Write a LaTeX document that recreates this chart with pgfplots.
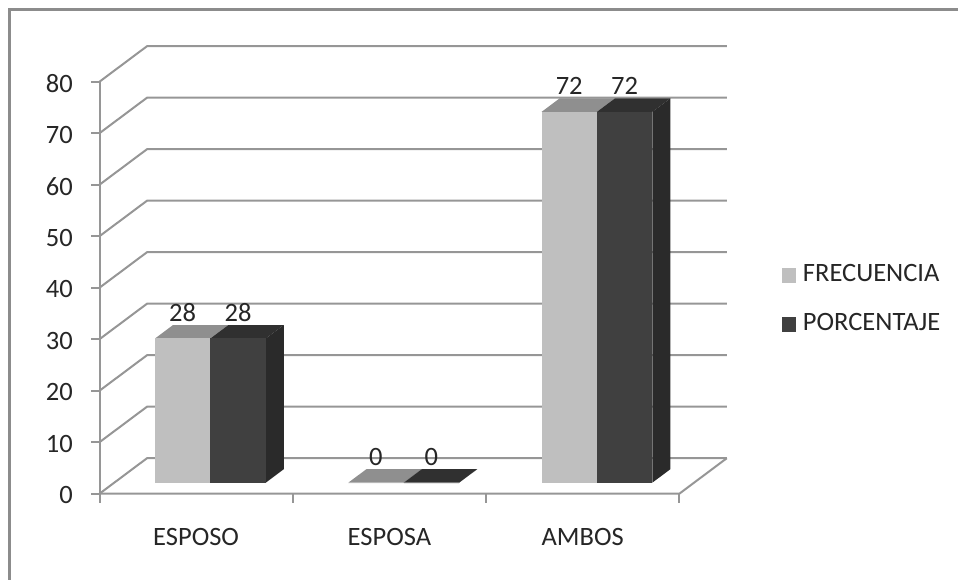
\documentclass[border=0pt]{standalone}
\usepackage{fontspec}
\setmainfont{Carlito}
\usepackage{pgfplots}
\pgfplotsset{compat=1.18}

\definecolor{rulegrey}{HTML}{969696}
\definecolor{framegrey}{HTML}{8C8C8C}
\definecolor{inktext}{HTML}{262626}
\definecolor{frecfront}{HTML}{BFBFBF}
\definecolor{frectop}{HTML}{8F8F8F}
\definecolor{porcfront}{HTML}{404040}
\definecolor{porctop}{HTML}{303030}
\definecolor{porcside}{HTML}{2A2A2A}

% depth range occupied by the columns inside the unit-deep floor
\def\dfront{0.31}
\def\dback{0.69}

% one box: left edge, middle, right edge, value, front colour, top colour, side colour
\newcommand{\columnbox}[7]{%
  \addplot3[draw=none,fill=#7,forget plot] coordinates {(#3,\dfront,0)(#3,\dback,0)(#3,\dback,#4)(#3,\dfront,#4)};
  \addplot3[draw=none,fill=#6,forget plot] coordinates {(#1,\dfront,#4)(#3,\dfront,#4)(#3,\dback,#4)(#1,\dback,#4)};
  \addplot3[draw=none,fill=#5,forget plot] coordinates {(#1,\dfront,0)(#3,\dfront,0)(#3,\dfront,#4)(#1,\dfront,#4)};
  \node[text=inktext,yshift=26pt] at (axis cs:#2,\dfront,#4) {#4};
}

\begin{document}
\begin{tikzpicture}[x=1pt,y=1pt]
\useasboundingbox (0,0) rectangle (958,-580);
\fontsize{26.5}{30}\selectfont
% chart area border
\draw[framegrey,line width=2.6pt] (9.5,-580) -- (9.5,-9.5) -- (958,-9.5);
\begin{axis}[
  at={(99.5pt,-493.7pt)},
  anchor=origin,
  x={(193.27pt,0pt)},
  y={(47.5pt,35.5pt)},
  z={(0pt,5.15pt)},
  xmin=0,xmax=3,ymin=0,ymax=1,zmin=0,zmax=80,
  hide axis,
  clip=false,
  legend style={
    at={(axis cs:3.53,0,44.5)},anchor=north west,
    draw=none,fill=none,inner sep=0pt,outer sep=0pt,
    font=\fontsize{26.5}{30}\selectfont,text=inktext,
    row sep=28pt,
    /tikz/every node/.append style={inner sep=0pt},
  },
  legend cell align=left,
  legend image code/.code={\fill[#1,draw=none] (0pt,-7.5pt) rectangle (14pt,7.5pt); \path (21pt,0pt);},
  every axis plot/.append style={no marks},
]
% walls and floor
\pgfplotsinvokeforeach{0,10,...,80}{
  \addplot3[rulegrey,line width=2pt,forget plot] coordinates {(0,0,#1)(0,1,#1)(3,1,#1)};
  \draw[rulegrey,line width=2pt] (axis cs:0,0,#1) -- ++(-9pt,0pt);
  \node[text=inktext,anchor=east,inner sep=0pt] at (axis cs:0,0,#1) [xshift=-26.5pt,yshift=-1.5pt] {#1};
}
\addplot3[rulegrey,line width=2pt,forget plot] coordinates {(0,0,0)(0,0,80)};
\addplot3[rulegrey,line width=2pt,forget plot] coordinates {(0,0,0)(3,0,0)(3,1,0)};
\pgfplotsinvokeforeach{0,1,2,3}{
  \draw[rulegrey,line width=2pt] (axis cs:#1,0,0) -- ++(0pt,-9pt);
}
% category names
\node[text=inktext] at (axis cs:0.5,0,0) [yshift=-43pt] {ESPOSO};
\node[text=inktext] at (axis cs:1.5,0,0) [yshift=-43pt] {ESPOSA};
\node[text=inktext] at (axis cs:2.5,0,0) [yshift=-43pt] {AMBOS};
% columns
\columnbox{0.211}{0.354}{0.4975}{28}{frecfront}{frectop}{frecfront}
\columnbox{0.4975}{0.641}{0.784}{28}{porcfront}{porctop}{porcside}
\columnbox{1.211}{1.354}{1.4975}{0}{frecfront}{frectop}{frecfront}
\columnbox{1.4975}{1.641}{1.784}{0}{porcfront}{porctop}{porcside}
\columnbox{2.211}{2.354}{2.4975}{72}{frecfront}{frectop}{frecfront}
\columnbox{2.4975}{2.641}{2.784}{72}{porcfront}{porctop}{porcside}
% legend
\addlegendimage{fill=frecfront}
\addlegendentry{FRECUENCIA}
\addlegendimage{fill=porcfront}
\addlegendentry{PORCENTAJE}
\end{axis}
\end{tikzpicture}
\end{document}
